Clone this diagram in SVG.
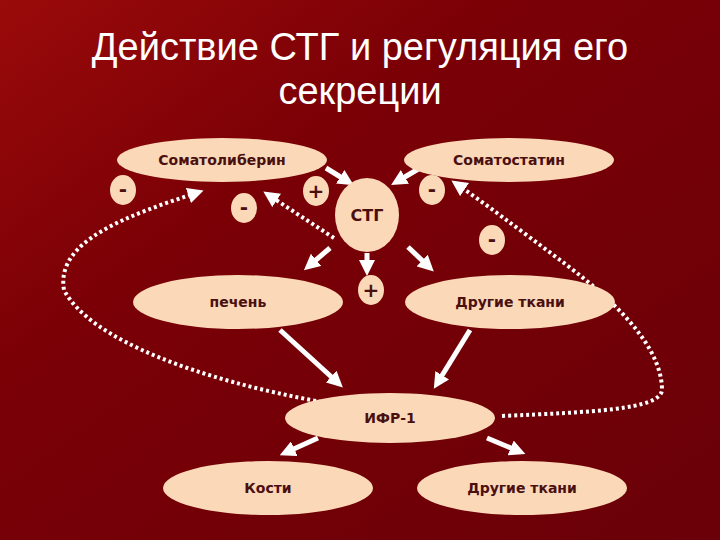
<svg xmlns="http://www.w3.org/2000/svg" width="720" height="540" viewBox="0 0 720 540">
<defs>
<linearGradient id="bg" x1="0" y1="0" x2="1" y2="1"><stop offset="0" stop-color="#9a0a0a"/><stop offset="0.35" stop-color="#7a0006"/><stop offset="1" stop-color="#6a0008"/></linearGradient>
<marker id="ah" viewBox="0 0 10 10" refX="5" refY="5" markerWidth="3.2" markerHeight="3.2" orient="auto"><path d="M0,0 L10,5 L0,10 z" fill="#fff"/></marker>
<marker id="dh" viewBox="0 0 10 10" refX="5" refY="5" markerWidth="4" markerHeight="4" orient="auto"><path d="M0,0 L10,5 L0,10 z" fill="#fff"/></marker>
<style>
.n{fill:#fbd8b8}
.t{font-family:"DejaVu Sans",sans-serif;font-weight:bold;font-size:14px;fill:#4a0f0f;text-anchor:middle}
.s{font-family:"DejaVu Sans",sans-serif;font-weight:bold;font-size:20px;fill:#4a0f0f;text-anchor:middle}
.a{stroke:#fff;stroke-width:5;fill:none;marker-end:url(#ah)}
.d{stroke:#fff;stroke-width:4;fill:none;stroke-dasharray:3 3;marker-end:url(#dh)}
.h{font-family:"Liberation Sans",sans-serif;font-size:38px;fill:#fff;text-anchor:middle}
</style>
</defs>
<rect width="720" height="540" fill="url(#bg)"/>
<text class="h" x="360" y="60">Действие СТГ и регуляция его</text>
<text class="h" x="360" y="104">секреции</text>
<g id="connectors">
<path class="a" d="M326,168 L347,181"/>
<path class="a" d="M420,168 L398,181"/>
<path class="a" d="M330,248 L310,265"/>
<path class="a" d="M408,247 L428,266"/>
<path class="a" d="M367,253 L367,268"/>
<path class="a" d="M280,330 L337,382"/>
<path class="a" d="M470,330 L438,382"/>
<path class="a" d="M318,438 L287,452"/>
<path class="a" d="M487,438 L518,451"/>
<path class="d" d="M334,238 L270,196"/>
<path class="d" d="M322,402 C200,380 90,340 64,290 C55,240 130,215 196,193"/>
<path class="d" d="M502,416 C590,412 660,410 662,390 C662,340 600,290 560,260 C520,230 480,200 458,185"/>
</g>
<g id="somatoliberin"><ellipse class="n" cx="222" cy="160" rx="105" ry="22"/><text class="t" x="222" y="165">Соматолиберин</text></g>
<g id="somatostatin"><ellipse class="n" cx="509" cy="160" rx="105" ry="22"/><text class="t" x="509" y="165">Соматостатин</text></g>
<g id="stg"><ellipse class="n" cx="367" cy="215" rx="32" ry="37"/><text class="t" x="367" y="221" style="font-size:16px">СТГ</text></g>
<g id="m1"><ellipse class="n" cx="123" cy="190" rx="13" ry="15"/><text class="s" x="123" y="196">-</text></g>
<g id="m2"><ellipse class="n" cx="244" cy="208" rx="13" ry="15"/><text class="s" x="244" y="214">-</text></g>
<g id="p1"><ellipse class="n" cx="316" cy="191" rx="13" ry="15"/><text class="s" x="316" y="198">+</text></g>
<g id="m3"><ellipse class="n" cx="432" cy="190" rx="13" ry="15"/><text class="s" x="432" y="196">-</text></g>
<g id="m4"><ellipse class="n" cx="492" cy="240" rx="13" ry="15"/><text class="s" x="492" y="246">-</text></g>
<g id="p2"><ellipse class="n" cx="371" cy="290" rx="13" ry="15"/><text class="s" x="371" y="297">+</text></g>
<g id="liver"><ellipse class="n" cx="238" cy="302" rx="105" ry="27"/><text class="t" x="238" y="307">печень</text></g>
<g id="other1"><ellipse class="n" cx="510" cy="302" rx="105" ry="27"/><text class="t" x="510" y="307">Другие ткани</text></g>
<g id="igf"><ellipse class="n" cx="390" cy="418" rx="105" ry="25"/><text class="t" x="390" y="423">ИФР-1</text></g>
<g id="bones"><ellipse class="n" cx="268" cy="488" rx="105" ry="27"/><text class="t" x="268" y="493">Кости</text></g>
<g id="other2"><ellipse class="n" cx="522" cy="488" rx="105" ry="27"/><text class="t" x="522" y="493">Другие ткани</text></g>
</svg>
